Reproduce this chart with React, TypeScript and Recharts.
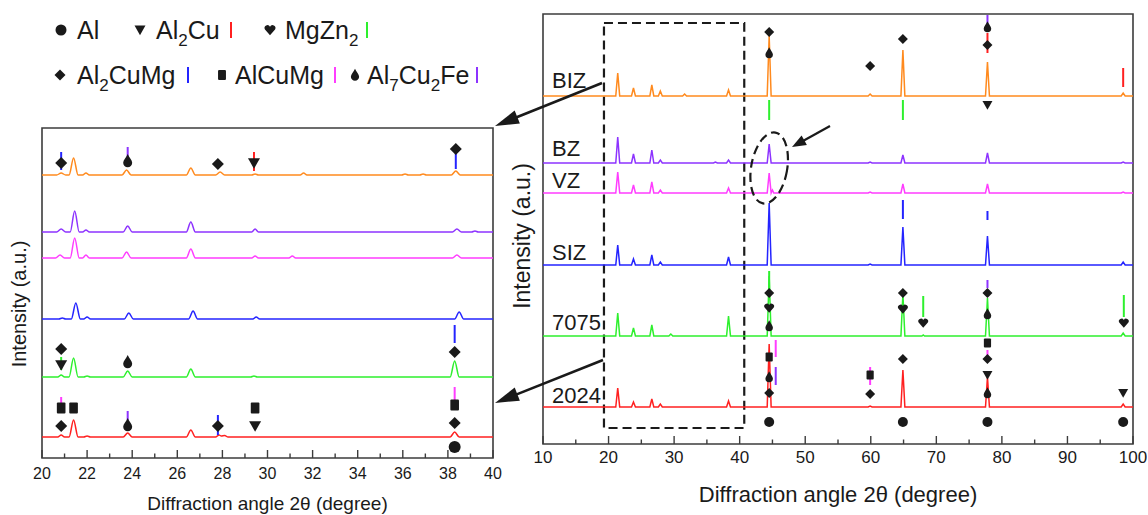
import type { ReactNode } from "react";
import {
  ComposedChart,
  Line,
  Scatter,
  XAxis,
  YAxis,
  ReferenceArea,
  ReferenceLine,
  ReferenceDot,
} from "recharts";

type Pt = [number, number];
type Kind = "al" | "al2cu" | "mgzn2" | "al2cumg" | "alcumg" | "al7cu2fe";
type Stick = [number, number, number, Kind];

const FONT = '"Liberation Sans", Arial, Helvetica, sans-serif';
const INK = "#1a1a1a";
const FRAME = "#3c3c3c";
const X_TITLE = "Diffraction angle 2θ (degree)";
const Y_TITLE = "Intensity (a.u.)";

/* ── samples, top to bottom ─────────────────────────────────────────────── */

const SAMPLES = ["BIZ", "BZ", "VZ", "SIZ", "7075", "2024"];
const SAMPLE_COLORS = ["#ff8a1e", "#8d33ff", "#ff3dff", "#2424ff", "#2ef02e", "#ff2020"];

/* ── wide scan 10–100°, counts per sample (offset added when stacking) ──── */

const WIDE_BIZ: Pt[] = [
  [10, 0], [21.1, 0], [21.4, 23], [21.7, 0], [23.5, 0], [23.8, 8], [24.1, 0], [26.3, 0], [26.6, 11], [26.9, 0],
  [27.6, 0], [27.9, 5], [28.2, 0], [31.3, 0], [31.6, 2], [31.9, 0], [38.0, 0], [38.3, 6], [38.6, 0],
  [44.2, 0], [44.5, 60], [44.8, 0], [59.6, 0], [59.9, 2], [60.2, 0], [64.6, 0], [64.9, 46], [65.2, 0],
  [77.5, 0], [77.8, 34], [78.1, 0], [98.2, 0], [98.5, 3], [98.8, 0], [100, 0],
];
const WIDE_BZ: Pt[] = [
  [10, 0], [21.1, 0], [21.4, 26], [21.7, 0], [23.5, 0], [23.8, 9], [24.1, 0], [26.3, 0], [26.6, 13], [26.9, 0],
  [27.6, 0], [27.9, 3], [28.2, 0], [36.0, 0], [36.3, 1], [36.6, 0], [38.0, 0], [38.3, 3], [38.6, 0],
  [44.2, 0], [44.5, 19], [44.8, 0], [59.6, 0], [59.9, 1], [60.2, 0], [64.6, 0], [64.9, 8], [65.2, 0],
  [77.5, 0], [77.8, 10], [78.1, 0], [98.2, 0], [98.5, 1], [98.8, 0], [100, 0],
];
const WIDE_VZ: Pt[] = [
  [10, 0], [21.1, 0], [21.4, 21], [21.7, 0], [23.5, 0], [23.8, 8], [24.1, 0], [26.3, 0], [26.6, 11], [26.9, 0],
  [27.6, 0], [27.9, 3], [28.2, 0], [38.0, 0], [38.3, 5], [38.6, 0], [44.2, 0], [44.5, 20], [44.8, 0],
  [45.0, 3], [45.2, 0], [59.6, 0], [59.9, 1], [60.2, 0], [64.6, 0], [64.9, 9], [65.2, 0],
  [77.5, 0], [77.8, 9], [78.1, 0], [98.2, 0], [98.5, 1], [98.8, 0], [100, 0],
];
const WIDE_SIZ: Pt[] = [
  [10, 0], [21.1, 0], [21.4, 20], [21.7, 0], [23.5, 0], [23.8, 6], [24.1, 0], [26.3, 0], [26.6, 10], [26.9, 0],
  [27.6, 0], [27.9, 3], [28.2, 0], [38.0, 0], [38.3, 8], [38.6, 0], [44.2, 0], [44.5, 62], [44.8, 0],
  [59.6, 0], [59.9, 1], [60.2, 0], [64.6, 0], [64.9, 38], [65.2, 0], [77.5, 0], [77.8, 29], [78.1, 0],
  [98.2, 0], [98.5, 3], [98.8, 0], [100, 0],
];
const WIDE_7075: Pt[] = [
  [10, 0], [21.1, 0], [21.4, 23], [21.7, 0], [23.5, 0], [23.8, 8], [24.1, 0], [26.3, 0], [26.6, 11], [26.9, 0],
  [29.2, 0], [29.5, 2], [29.8, 0], [38.0, 0], [38.3, 20], [38.6, 0], [44.2, 0], [44.5, 60], [44.8, 0],
  [64.6, 0], [64.9, 42], [65.2, 0], [67.8, 0], [68.0, 1], [68.2, 0], [77.5, 0], [77.8, 38], [78.1, 0],
  [98.2, 0], [98.5, 3], [98.8, 0], [100, 0],
];
const WIDE_2024: Pt[] = [
  [10, 0], [21.1, 0], [21.4, 19], [21.7, 0], [23.5, 0], [23.8, 5], [24.1, 0], [26.3, 0], [26.6, 8], [26.9, 0],
  [27.6, 0], [27.9, 3], [28.2, 0], [38.0, 0], [38.3, 6], [38.6, 0], [44.2, 0], [44.5, 63], [44.8, 0],
  [59.6, 0], [59.9, 1], [60.2, 0], [64.6, 0], [64.9, 37], [65.2, 0], [77.5, 0], [77.8, 30], [78.1, 0],
  [98.2, 0], [98.5, 3], [98.8, 0], [100, 0],
];
const WIDE_OFFSETS = [348, 281, 251, 179, 108, 37];

/* ── zoomed scan 20–40° ─────────────────────────────────────────────────── */

const ZOOM_BIZ: Pt[] = [
  [20, 0], [20.65, 0], [20.85, 2], [21.05, 0], [21.2, 0], [21.4, 17], [21.6, 0], [21.8, 0], [21.95, 2], [22.1, 0],
  [23.55, 0], [23.75, 5], [23.95, 0], [26.4, 0], [26.6, 7], [26.8, 0], [27.7, 0], [27.9, 3], [28.1, 0],
  [29.3, 0], [29.45, 1], [29.6, 0], [31.45, 0], [31.6, 2], [31.75, 0], [35.95, 0], [36.1, 1], [36.25, 0],
  [36.75, 0], [36.9, 1], [37.05, 0], [38.15, 0], [38.35, 4], [38.55, 0], [40, 0],
];
const ZOOM_BZ: Pt[] = [
  [20, 0], [20.65, 0], [20.85, 3], [21.05, 0], [21.25, 0], [21.45, 21], [21.65, 0], [21.8, 0], [21.95, 2], [22.1, 0],
  [23.6, 0], [23.8, 6], [24.0, 0], [26.4, 0], [26.6, 10], [26.8, 0], [29.3, 0], [29.45, 3], [29.6, 0],
  [38.2, 0], [38.4, 3], [38.6, 0], [39.05, 0], [39.2, 1], [39.35, 0], [40, 0],
];
const ZOOM_VZ: Pt[] = [
  [20, 0], [20.6, 0], [20.8, 3], [21.0, 0], [21.25, 0], [21.45, 20], [21.65, 0], [21.8, 0], [21.95, 3], [22.1, 0],
  [23.55, 0], [23.75, 6], [23.95, 0], [26.4, 0], [26.6, 9], [26.8, 0], [29.3, 0], [29.45, 2], [29.6, 0],
  [30.95, 0], [31.1, 2], [31.25, 0], [38.2, 0], [38.4, 3], [38.6, 0], [40, 0],
];
const ZOOM_SIZ: Pt[] = [
  [20, 0], [20.75, 0], [20.9, 1], [21.05, 0], [21.3, 0], [21.5, 16], [21.7, 0], [21.85, 0], [22.0, 2], [22.15, 0],
  [23.65, 0], [23.85, 6], [24.05, 0], [26.5, 0], [26.7, 8], [26.9, 0], [29.35, 0], [29.5, 2], [29.65, 0],
  [38.3, 0], [38.5, 7], [38.7, 0], [40, 0],
];
const ZOOM_7075: Pt[] = [
  [20, 0], [20.7, 0], [20.85, 2], [21.0, 0], [21.2, 0], [21.4, 19], [21.6, 0], [21.85, 0], [22.0, 1], [22.15, 0],
  [23.6, 0], [23.8, 6], [24.0, 0], [26.4, 0], [26.6, 8], [26.8, 0], [29.25, 0], [29.4, 1], [29.55, 0],
  [38.1, 0], [38.3, 16], [38.5, 0], [40, 0],
];
const ZOOM_2024: Pt[] = [
  [20, 0], [20.7, 0], [20.85, 2], [21.0, 0], [21.2, 0], [21.4, 17], [21.6, 0], [21.85, 0], [22.0, 1], [22.15, 0],
  [23.6, 0], [23.8, 4], [24.0, 0], [26.4, 0], [26.6, 7], [26.8, 0], [27.7, 0], [27.85, 2], [27.95, 1],
  [28.1, 1.5], [28.25, 0], [38.1, 0], [38.3, 5], [38.5, 0], [40, 0],
];
const ZOOM_OFFSETS = [283, 226, 200, 139, 81, 21];

/* ── phase marks [angle, level] and reference sticks [angle, from, to, phase] */

const WIDE_MARKS: Record<Kind, Pt[]> = {
  al: [[44.5, 22], [64.9, 22], [77.8, 22], [98.5, 22]],
  al2cu: [[77.8, 339], [77.8, 69], [98.5, 51]],
  mgzn2: [[44.5, 136], [64.9, 135], [68.0, 121], [98.6, 121]],
  al2cumg: [
    [44.5, 412], [59.9, 378], [64.9, 405], [77.8, 399], [44.5, 151], [64.9, 151], [77.8, 151],
    [44.5, 51], [59.9, 50], [64.9, 85], [77.8, 85],
  ],
  alcumg: [[44.5, 87], [59.9, 69], [77.8, 101]],
  al7cu2fe: [[44.5, 391], [77.8, 417], [44.5, 118], [77.8, 130], [44.5, 67], [77.8, 51]],
};
const WIDE_STICKS: Stick[] = [
  [44.5, 324, 344, "mgzn2"], [64.9, 324, 344, "mgzn2"], [44.5, 154, 173, "mgzn2"],
  [68.0, 127, 148, "mgzn2"], [98.6, 127, 149, "mgzn2"],
  [77.8, 419, 429, "al7cu2fe"], [77.8, 156, 164, "al7cu2fe"], [45.5, 59, 77, "al7cu2fe"],
  [77.8, 391, 411, "al2cu"], [98.5, 357, 376, "al2cu"],
  [64.9, 225, 244, "al2cumg"], [77.8, 224, 233, "al2cumg"],
  [45.5, 87, 104, "alcumg"], [59.9, 59, 77, "alcumg"], [77.8, 87, 94, "alcumg"],
];

const ZOOM_MARKS: Record<Kind, Pt[]> = {
  al: [[38.3, 11]],
  al2cu: [[29.4, 295], [20.85, 93], [29.45, 32]],
  mgzn2: [],
  al2cumg: [
    [20.85, 295], [27.8, 294], [38.35, 309], [20.85, 109], [38.3, 106], [20.85, 32], [27.8, 32], [38.3, 35],
  ],
  alcumg: [[20.85, 50], [21.4, 50], [29.45, 50], [38.3, 53]],
  al7cu2fe: [[23.8, 297], [23.8, 96], [23.8, 33]],
};
const ZOOM_STICKS: Stick[] = [
  [20.85, 288, 306, "al2cumg"], [38.35, 289, 305, "al2cumg"], [38.3, 115, 133, "al2cumg"], [27.8, 23, 43, "al2cumg"],
  [23.8, 301, 311, "al7cu2fe"], [23.8, 38, 47, "al7cu2fe"],
  [29.4, 287, 306, "al2cu"],
  [20.85, 88, 101, "mgzn2"],
  [20.85, 48, 61, "alcumg"], [38.3, 58, 71, "alcumg"],
];

const WIDE_TICKS = [10, 15, 20, 25, 30, 35, 40, 45, 50, 55, 60, 65, 70, 75, 80, 85, 90, 95, 100];
const WIDE_LABELS = [10, 20, 30, 40, 50, 60, 70, 80, 90, 100];
const ZOOM_TICKS = [20, 21, 22, 23, 24, 25, 26, 27, 28, 29, 30, 31, 32, 33, 34, 35, 36, 37, 38, 39, 40];
const ZOOM_LABELS = [20, 22, 24, 26, 28, 30, 32, 34, 36, 38, 40];

const LEGEND: { kind: Kind; name: string }[] = [
  { kind: "al", name: "Al" },
  { kind: "al2cu", name: "Al_2Cu" },
  { kind: "mgzn2", name: "MgZn_2" },
  { kind: "al2cumg", name: "Al_2CuMg" },
  { kind: "alcumg", name: "AlCuMg" },
  { kind: "al7cu2fe", name: "Al_7Cu_2Fe" },
];

const PHASE_COLORS: Record<Kind, string> = {
  al: INK,
  al2cu: "#ff2020",
  mgzn2: "#2ef02e",
  al2cumg: "#2424ff",
  alcumg: "#ff3dff",
  al7cu2fe: "#8d33ff",
};

/* ── marks ──────────────────────────────────────────────────────────────── */

function PhaseMark({ kind, cx, cy, s }: { kind: Kind; cx: number; cy: number; s: number }) {
  switch (kind) {
    case "al":
      return <circle cx={cx} cy={cy} r={s} fill={INK} />;
    case "al2cu":
      return <path d={`M${cx - s},${cy - s * 0.8}L${cx + s},${cy - s * 0.8}L${cx},${cy + s * 0.95}Z`} fill={INK} />;
    case "al2cumg":
      return <path d={`M${cx},${cy - s}L${cx + s},${cy}L${cx},${cy + s}L${cx - s},${cy}Z`} fill={INK} />;
    case "alcumg":
      return <rect x={cx - s * 0.72} y={cy - s * 0.9} width={s * 1.44} height={s * 1.8} rx={1} fill={INK} />;
    case "mgzn2":
      return (
        <path
          d={`M${cx},${cy + s * 0.95}L${cx - s * 0.92},${cy - s * 0.1}A${s * 0.52},${s * 0.52} 0 0 1 ${cx},${cy - s * 0.6}A${s * 0.52},${s * 0.52} 0 0 1 ${cx + s * 0.92},${cy - s * 0.1}Z`}
          fill={INK}
        />
      );
    case "al7cu2fe":
      return (
        <path
          d={`M${cx},${cy - s * 1.15}C${cx + s * 0.25},${cy - s * 0.6} ${cx + s * 0.75},${cy - s * 0.1} ${cx + s * 0.75},${cy + s * 0.3}A${s * 0.75},${s * 0.75} 0 0 1 ${cx - s * 0.75},${cy + s * 0.3}C${cx - s * 0.75},${cy - s * 0.1} ${cx - s * 0.25},${cy - s * 0.6} ${cx},${cy - s * 1.15}Z`}
          fill={INK}
        />
      );
  }
}

function Formula({ text, x, y, size }: { text: string; x: number; y: number; size: number }) {
  const bits = text.split(/_(\d)/);
  return (
    <text x={x} y={y} fontSize={size} fill={INK}>
      {bits.map((b, i) =>
        i % 2 ? (
          <tspan key={i} fontSize={size * 0.68} dy={size * 0.28}>
            {b}
          </tspan>
        ) : (
          <tspan key={i} dy={i ? -size * 0.28 : 0}>
            {b}
          </tspan>
        ),
      )}
    </text>
  );
}

function Arrow({ x1, y1, x2, y2, head, half, w }: { x1: number; y1: number; x2: number; y2: number; head: number; half: number; w: number }) {
  const a = Math.atan2(y2 - y1, x2 - x1);
  const bx = x2 - head * Math.cos(a);
  const by = y2 - head * Math.sin(a);
  const px = -Math.sin(a) * half;
  const py = Math.cos(a) * half;
  return (
    <g>
      <line x1={x1} y1={y1} x2={bx + Math.cos(a) * 2} y2={by + Math.sin(a) * 2} stroke={INK} strokeWidth={w} />
      <polygon points={`${x2},${y2} ${bx + px},${by + py} ${bx - px},${by - py}`} fill={INK} />
    </g>
  );
}

/* ── one diffractogram panel ────────────────────────────────────────────── */

type PanelProps = {
  traces: Pt[][];
  offsets: number[];
  marks: Record<Kind, Pt[]>;
  sticks: Stick[];
  domain: [number, number];
  yMax: number;
  ticks: number[];
  labels: number[];
  left: number;
  top: number;
  width: number;
  height: number;
  margin: { top: number; right: number; bottom: number; left: number };
  axisHeight: number;
  titleOffset: number;
  tickFont: number;
  tickDy: number;
  titleFont: number;
  markSize: number;
  curve: "linear" | "monotone";
  children?: ReactNode;
};

function Panel(p: PanelProps) {
  return (
    <div style={{ position: "absolute", left: p.left, top: p.top, width: p.width, height: p.height }}>
      <ComposedChart width={p.width} height={p.height} margin={p.margin}>
        <XAxis
          type="number"
          dataKey="x"
          domain={p.domain}
          ticks={p.ticks}
          interval={0}
          height={p.axisHeight}
          axisLine={false}
          tickLine={false}
          tickSize={0}
          tickMargin={0}
          tick={(t: any) => {
            const major = p.labels.includes(t.payload.value);
            return (
              <g>
                <line x1={t.x} x2={t.x} y1={t.y} y2={t.y - (major ? 8 : 4.5)} stroke={FRAME} strokeWidth={1.4} />
                {major && (
                  <text x={t.x} y={t.y + p.tickDy} textAnchor="middle" fontSize={p.tickFont} fill={INK}>
                    {t.payload.value}
                  </text>
                )}
              </g>
            );
          }}
          label={{ value: X_TITLE, position: "insideBottom", offset: p.titleOffset, fontSize: p.titleFont, fill: INK }}
        />
        <YAxis type="number" dataKey="y" domain={[0, p.yMax]} hide />
        <ReferenceArea x1={p.domain[0]} x2={p.domain[1]} y1={0} y2={p.yMax} fill="none" stroke={FRAME} strokeWidth={1.6} ifOverflow="visible" />
        {p.traces.map((tr, i) => (
          <Line
            key={SAMPLES[i]}
            data={tr.map(([x, v]) => ({ x, y: v + p.offsets[i] }))}
            dataKey="y"
            type={p.curve}
            stroke={SAMPLE_COLORS[i]}
            strokeWidth={1.5}
            dot={false}
            activeDot={false}
            isAnimationActive={false}
          />
        ))}
        {p.sticks.map(([x, a, b, k], i) => (
          <ReferenceLine
            key={`s${i}`}
            segment={[{ x, y: a }, { x, y: b }]}
            stroke={PHASE_COLORS[k]}
            strokeWidth={2}
            ifOverflow="visible"
          />
        ))}
        {(Object.keys(p.marks) as Kind[]).map((k) =>
          p.marks[k].length ? (
            <Scatter
              key={k}
              data={p.marks[k].map(([x, y]) => ({ x, y }))}
              dataKey="y"
              isAnimationActive={false}
              shape={(s: any) => <PhaseMark kind={k} cx={s.cx} cy={s.cy} s={p.markSize} />}
            />
          ) : null,
        )}
        {p.children}
      </ComposedChart>
    </div>
  );
}

export default function App() {
  const legendX = [61, 140, 270, 60, 222, 355];
  const legendTextX = [77, 156, 285, 77, 235, 367];
  const legendStickX = [0, 231, 367, 188, 335, 477];
  const labelY = [88, 155.5, 188, 259.5, 329.5, 402.5];

  return (
    <div
      style={{
        position: "absolute",
        left: 0,
        top: 0,
        width: 1148,
        height: 515,
        overflow: "hidden",
        background: "#fff",
        fontFamily: FONT,
      }}
    >
      {/* zoomed 20–40° inset */}
      <Panel
        traces={[ZOOM_BIZ, ZOOM_BZ, ZOOM_VZ, ZOOM_SIZ, ZOOM_7075, ZOOM_2024]}
        offsets={ZOOM_OFFSETS}
        marks={ZOOM_MARKS}
        sticks={ZOOM_STICKS}
        domain={[20, 40]}
        yMax={330}
        ticks={ZOOM_TICKS}
        labels={ZOOM_LABELS}
        left={12}
        top={118}
        width={511}
        height={407}
        margin={{ top: 10, right: 30, bottom: 0, left: 30 }}
        axisHeight={67}
        titleOffset={15}
        tickFont={16}
        tickDy={21}
        titleFont={19}
        markSize={6}
        curve="monotone"
      />

      {/* full 10–100° scan */}
      <Panel
        traces={[WIDE_BIZ, WIDE_BZ, WIDE_VZ, WIDE_SIZ, WIDE_7075, WIDE_2024]}
        offsets={WIDE_OFFSETS}
        marks={WIDE_MARKS}
        sticks={WIDE_STICKS}
        domain={[10, 100]}
        yMax={430}
        ticks={WIDE_TICKS}
        labels={WIDE_LABELS}
        left={513}
        top={4}
        width={634}
        height={510}
        margin={{ top: 10, right: 14, bottom: 0, left: 30 }}
        axisHeight={70}
        titleOffset={12}
        tickFont={17}
        tickDy={19}
        titleFont={22}
        markSize={5}
        curve="linear"
      >
        <ReferenceArea
          x1={19.3}
          x2={40.7}
          y1={16}
          y2={421}
          fill="none"
          stroke={INK}
          strokeWidth={2.2}
          strokeDasharray="9 5"
          ifOverflow="visible"
        />
        <ReferenceDot
          x={44.5}
          y={276}
          ifOverflow="visible"
          shape={(d: any) => (
            <ellipse
              cx={d.cx}
              cy={d.cy}
              rx={18}
              ry={36}
              transform={`rotate(10 ${d.cx} ${d.cy})`}
              fill="none"
              stroke={INK}
              strokeWidth={2.2}
              strokeDasharray="9 5"
            />
          )}
        />
      </Panel>

      <svg width={1148} height={515} style={{ position: "absolute", left: 0, top: 0, pointerEvents: "none" }}>
        {LEGEND.map((l, i) => {
          const row = i < 3 ? 0 : 1;
          const cy = row ? 75 : 30;
          const base = row ? 83.5 : 39;
          return (
            <g key={l.kind}>
              <PhaseMark kind={l.kind} cx={legendX[i]} cy={cy} s={5.5} />
              <Formula text={l.name} x={legendTextX[i]} y={base} size={25} />
              {i > 0 && (
                <line
                  x1={legendStickX[i]}
                  x2={legendStickX[i]}
                  y1={cy - 8}
                  y2={cy + 8}
                  stroke={PHASE_COLORS[l.kind]}
                  strokeWidth={2}
                />
              )}
            </g>
          );
        })}

        {SAMPLES.map((s, i) => (
          <text key={s} x={552} y={labelY[i]} fontSize={22} fill={INK}>
            {s}
          </text>
        ))}

        <text transform="translate(26 304) rotate(-90)" textAnchor="middle" fontSize={20} fill={INK}>
          {Y_TITLE}
        </text>
        <text transform="translate(530 236) rotate(-90)" textAnchor="middle" fontSize={23} fill={INK}>
          {Y_TITLE}
        </text>

        <Arrow x1={602} y1={83} x2={495} y2={126} head={24} half={7} w={2.6} />
        <Arrow x1={603} y1={360} x2={495} y2={403} head={24} half={7} w={2.6} />
        <Arrow x1={830} y1={126} x2={792} y2={147} head={14} half={5.5} w={2.2} />
      </svg>
    </div>
  );
}
